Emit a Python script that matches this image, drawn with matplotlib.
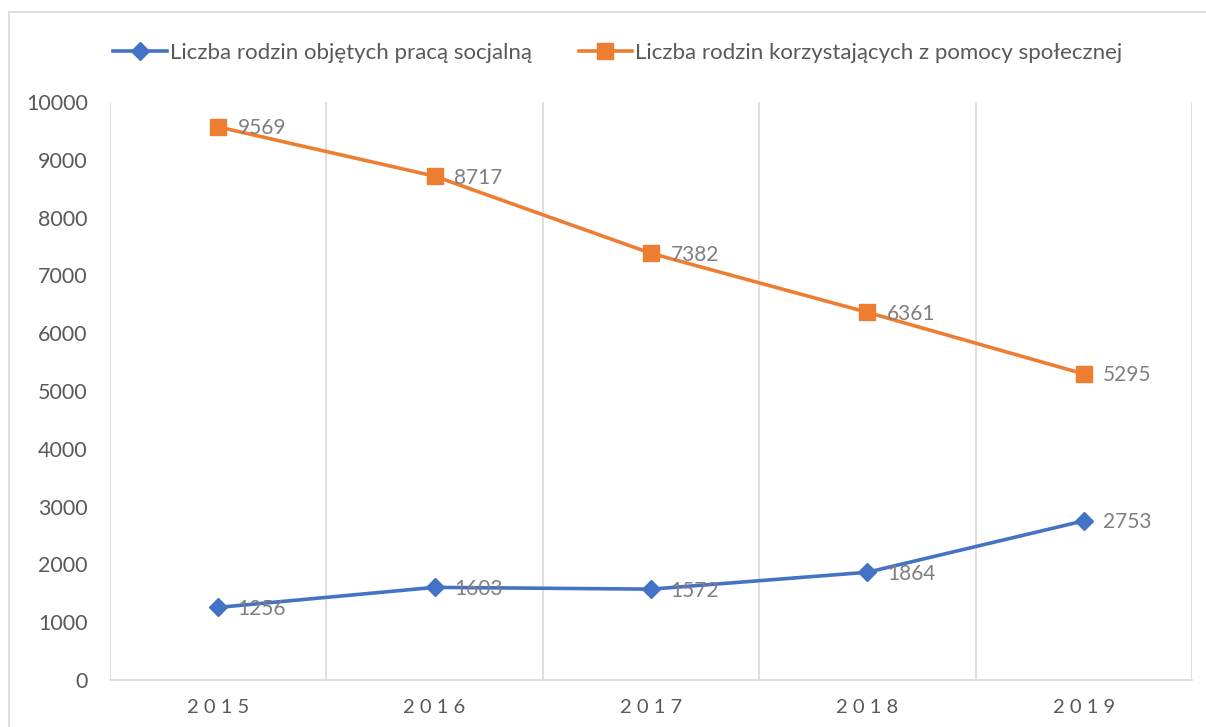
import matplotlib
matplotlib.use("Agg")
import matplotlib.pyplot as plt
from matplotlib.lines import Line2D

years = ["2015", "2016", "2017", "2018", "2019"]
praca_socjalna = [1256, 1603, 1572, 1864, 2753]
pomoc_spoleczna = [9569, 8717, 7382, 6361, 5295]

label_socjalna = "Liczba rodzin objętych pracą socjalną"
label_pomoc = "Liczba rodzin korzystających z pomocy społecznej"

plt.rcParams['font.family'] = ['Lato', 'DejaVu Sans']

BLUE = '#4472C4'
ORANGE = '#ED7D31'
GRID = '#D9D9D9'
TEXT = '#595959'
LABEL = '#7F7F7F'

fig = plt.figure(figsize=(12.06, 7.27), dpi=100)
ax = fig.add_axes([110 / 1206, 47 / 727, 1082 / 1206, 578 / 727])

x = list(range(len(years)))
ax.plot(x, praca_socjalna, color=BLUE, lw=2.6, marker='D', ms=9,
        label=label_socjalna, zorder=3)
ax.plot(x, pomoc_spoleczna, color=ORANGE, lw=2.6, marker='s', ms=11,
        label=label_pomoc, zorder=3)

for xi, v in zip(x, praca_socjalna):
    ax.annotate(str(v), (xi, v), xytext=(14, -1), textcoords='offset points',
                ha='left', va='center', color=LABEL, fontsize=15, zorder=4)
for xi, v in zip(x, pomoc_spoleczna):
    ax.annotate(str(v), (xi, v), xytext=(14, -1), textcoords='offset points',
                ha='left', va='center', color=LABEL, fontsize=15, zorder=4)

ax.set_xlim(-0.5, len(years) - 0.5)
ax.set_ylim(0, 10000)
ax.set_yticks(range(0, 10001, 1000))
ax.tick_params(axis='y', length=0, labelsize=15.5, labelcolor=TEXT, pad=16)

ax.set_xticks(x)
ax.set_xticklabels([" ".join(y) for y in years])
ax.set_xticks([i + 0.5 for i in range(-1, len(years))], minor=True)
ax.tick_params(axis='x', which='both', length=0, labelsize=14.5,
               labelcolor=TEXT, pad=14)
ax.grid(axis='x', which='minor', color=GRID, lw=1.2)
ax.grid(axis='x', which='major', visible=False)

for side in ['top', 'right', 'left']:
    ax.spines[side].set_visible(False)
ax.spines['bottom'].set_color(GRID)
ax.spines['bottom'].set_linewidth(1.2)

fig.legend(loc='center', bbox_to_anchor=(0.5125, 1 - 53 / 727), ncol=2,
           frameon=False, fontsize=16, labelcolor=TEXT, handlelength=2.4,
           handletextpad=0.15, columnspacing=2.1)

# outer chart frame
fig.add_artist(Line2D([9 / 1206, 9 / 1206], [0, 1 - 12 / 727],
                      color=GRID, lw=1.2, transform=fig.transFigure))
fig.add_artist(Line2D([9 / 1206, 1], [1 - 12 / 727, 1 - 12 / 727],
                      color=GRID, lw=1.2, transform=fig.transFigure))

fig.savefig("out.png", dpi=100)
